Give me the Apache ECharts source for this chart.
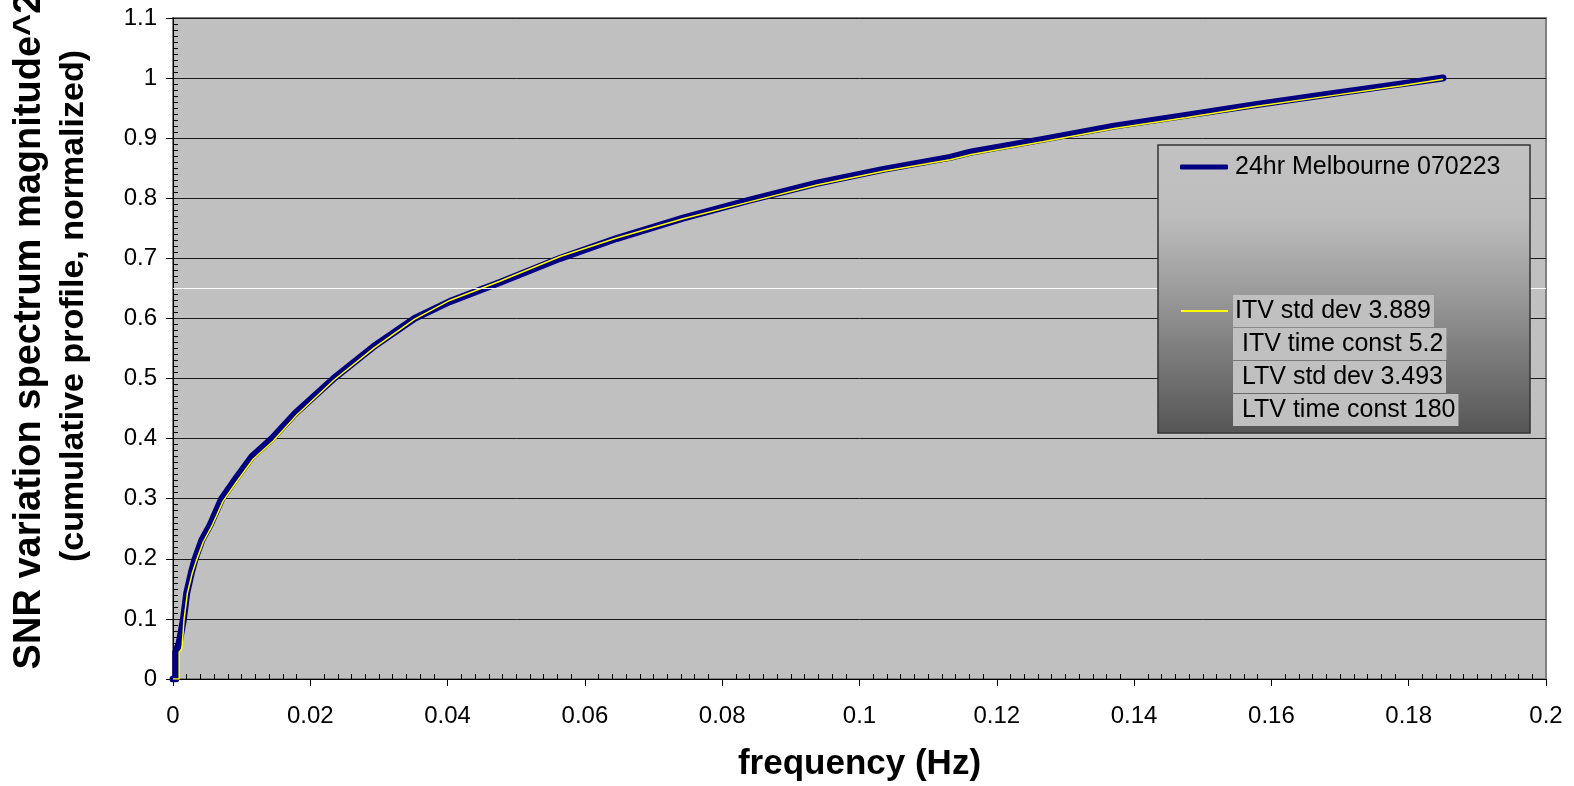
<!DOCTYPE html>
<html>
<head>
<meta charset="utf-8">
<script src="https://cdn.jsdelivr.net/npm/echarts@6/dist/echarts.min.js"></script>
<style>
  html, body { margin: 0; padding: 0; background: #fff; }
  #chart { width: 1574px; height: 786px; }
</style>
</head>
<body>
<div id="chart"></div>
<script>
  // measured cumulative profile (24hr Melbourne 070223)
  var melFreq = [0, 0.0004, 0.0004, 0.0009, 0.0015, 0.002, 0.0027, 0.0032, 0.0042, 0.0054, 0.0071, 0.009, 0.0115, 0.0144, 0.0178, 0.0234, 0.0292, 0.0352, 0.0403, 0.0476, 0.0564, 0.0646, 0.0743, 0.084, 0.0938, 0.1035, 0.1132, 0.1163, 0.1267, 0.1371, 0.1475, 0.1579, 0.1683, 0.1787, 0.185];
  var melCum = [0, 0, 0.045, 0.06, 0.098, 0.143, 0.178, 0.199, 0.231, 0.256, 0.300, 0.331, 0.370, 0.400, 0.442, 0.500, 0.553, 0.600, 0.628, 0.660, 0.700, 0.733, 0.767, 0.797, 0.825, 0.848, 0.868, 0.877, 0.898, 0.920, 0.938, 0.956, 0.973, 0.990, 1.0];

  // model curve (ITV / LTV parameters)
  var itvFreq = [0, 0.0009, 0.0009, 0.0013, 0.0016, 0.0021, 0.0028, 0.0034, 0.0044, 0.0056, 0.0073, 0.0092, 0.0117, 0.0146, 0.018, 0.0235, 0.0293, 0.0352, 0.0403, 0.0476, 0.0564, 0.0646, 0.0743, 0.084, 0.0938, 0.1035, 0.1132, 0.1163, 0.1267, 0.1371, 0.1475, 0.1579, 0.1683, 0.1787, 0.185];
  var itvCum = [0, 0, 0.045, 0.05, 0.098, 0.143, 0.176, 0.197, 0.228, 0.253, 0.296, 0.327, 0.366, 0.396, 0.439, 0.498, 0.551, 0.599, 0.630, 0.662, 0.703, 0.734, 0.766, 0.794, 0.822, 0.845, 0.864, 0.873, 0.894, 0.916, 0.934, 0.953, 0.970, 0.987, 0.998];

  var seriesNames = ['24hr Melbourne 070223', 'ITV std dev 3.889', ' ITV time const 5.2', ' LTV std dev 3.493', ' LTV time const 180'];
  var whiteRef = 0.652;

  function pairs(xs, ys) {
    return xs.map(function (x, i) { return [x, ys[i]]; });
  }

  var FONT = '"Liberation Sans", Arial, sans-serif';
  var legendText = {
    color: '#000',
    fontFamily: FONT,
    fontSize: 25,
    lineHeight: 26,
    backgroundColor: '#C0C0C0',
    padding: [3, 3, 3, 2]
  };

  var option = {
    animation: false,
    grid: {
      left: 173, right: 28, top: 18, bottom: 107,
      show: true,
      backgroundColor: '#C0C0C0',
      borderColor: '#808080',
      borderWidth: 2,
      outerBoundsMode: 'none'
    },
    xAxis: {
      type: 'value',
      min: 0, max: 0.2, interval: 0.02,
      name: 'frequency (Hz)',
      nameLocation: 'middle',
      nameGap: 68,
      nameTextStyle: { fontFamily: FONT, fontSize: 35, fontWeight: 'bold', color: '#000' },
      axisLine: { lineStyle: { color: '#000', width: 1 } },
      axisTick: { length: 7, lineStyle: { color: '#000' } },
      minorTick: { show: true, splitNumber: 10, length: -5, lineStyle: { color: '#000' } },
      splitLine: { show: false },
      axisLabel: { fontFamily: FONT, fontSize: 24, color: '#000', margin: 25 }
    },
    yAxis: {
      type: 'value',
      min: 0, max: 1.1, interval: 0.1,
      axisLine: { show: true, lineStyle: { color: '#000', width: 1 } },
      axisTick: { show: true, length: 7, lineStyle: { color: '#000' } },
      minorTick: { show: true, splitNumber: 10, length: -5, lineStyle: { color: '#000' } },
      splitLine: { show: true, lineStyle: { color: '#1a1a1a', width: 1 } },
      axisLabel: { fontFamily: FONT, fontSize: 24, color: '#000', margin: 16 }
    },
    graphic: [
      {
        type: 'rect', z: 10,
        shape: { x: 1158, y: 145, width: 372, height: 288 },
        style: {
          fill: new echarts.graphic.LinearGradient(0, 0, 0, 1, [
            { offset: 0, color: '#c2c2c2' },
            { offset: 0.25, color: '#bdbdbd' },
            { offset: 0.5, color: '#9c9c9c' },
            { offset: 1, color: '#555555' }
          ]),
          stroke: '#333',
          lineWidth: 1.5
        }
      },
      {
        type: 'text', x: 30, y: 331, rotation: Math.PI / 2,
        style: {
          text: 'SNR variation spectrum magnitude^2',
          font: 'bold 38px ' + FONT,
          fill: '#000',
          textAlign: 'center',
          textVerticalAlign: 'middle'
        }
      },
      {
        type: 'text', x: 74, y: 306, rotation: Math.PI / 2,
        style: {
          text: '(cumulative profile, normalized)',
          font: 'bold 34px ' + FONT,
          fill: '#000',
          textAlign: 'center',
          textVerticalAlign: 'middle'
        }
      }
    ],
    legend: [
      {
        orient: 'vertical', left: 1180, top: 151, padding: 0, z: 11,
        itemWidth: 48, itemHeight: 5, itemGap: 1,
        data: [{ name: seriesNames[0], icon: 'roundRect' }],
        textStyle: legendText
      },
      {
        orient: 'vertical', left: 1181, top: 295, padding: 0, z: 11,
        itemWidth: 47, itemHeight: 2, itemGap: 1,
        data: [
          { name: seriesNames[1], icon: 'rect' },
          { name: seriesNames[2], icon: 'none' },
          { name: seriesNames[3], icon: 'none' },
          { name: seriesNames[4], icon: 'none' }
        ],
        textStyle: legendText
      }
    ],
    series: [
      {
        name: 'ref', type: 'line', data: [], z: 1,
        markLine: {
          silent: true, symbol: 'none', label: { show: false },
          lineStyle: { color: '#fff', width: 1, type: 'solid' },
          data: [{ yAxis: whiteRef }]
        }
      },
      {
        name: seriesNames[0], type: 'line', symbol: 'none', z: 2,
        data: pairs(melFreq, melCum),
        itemStyle: { color: '#000080' },
        lineStyle: { color: '#000080', width: 7, cap: 'round', join: 'round' }
      },
      {
        name: seriesNames[1], type: 'line', symbol: 'none', z: 3,
        data: pairs(itvFreq, itvCum),
        itemStyle: { color: '#FFFF00' },
        lineStyle: { color: '#FFFF00', width: 1.5 }
      },
      { name: seriesNames[2], type: 'scatter', data: [] },
      { name: seriesNames[3], type: 'scatter', data: [] },
      { name: seriesNames[4], type: 'scatter', data: [] }
    ]
  };

  var myChart = echarts.init(document.getElementById('chart'));
  myChart.setOption(option);
  window.addEventListener('resize', function () {
    myChart.resize();
  });
</script>
</body>
</html>
